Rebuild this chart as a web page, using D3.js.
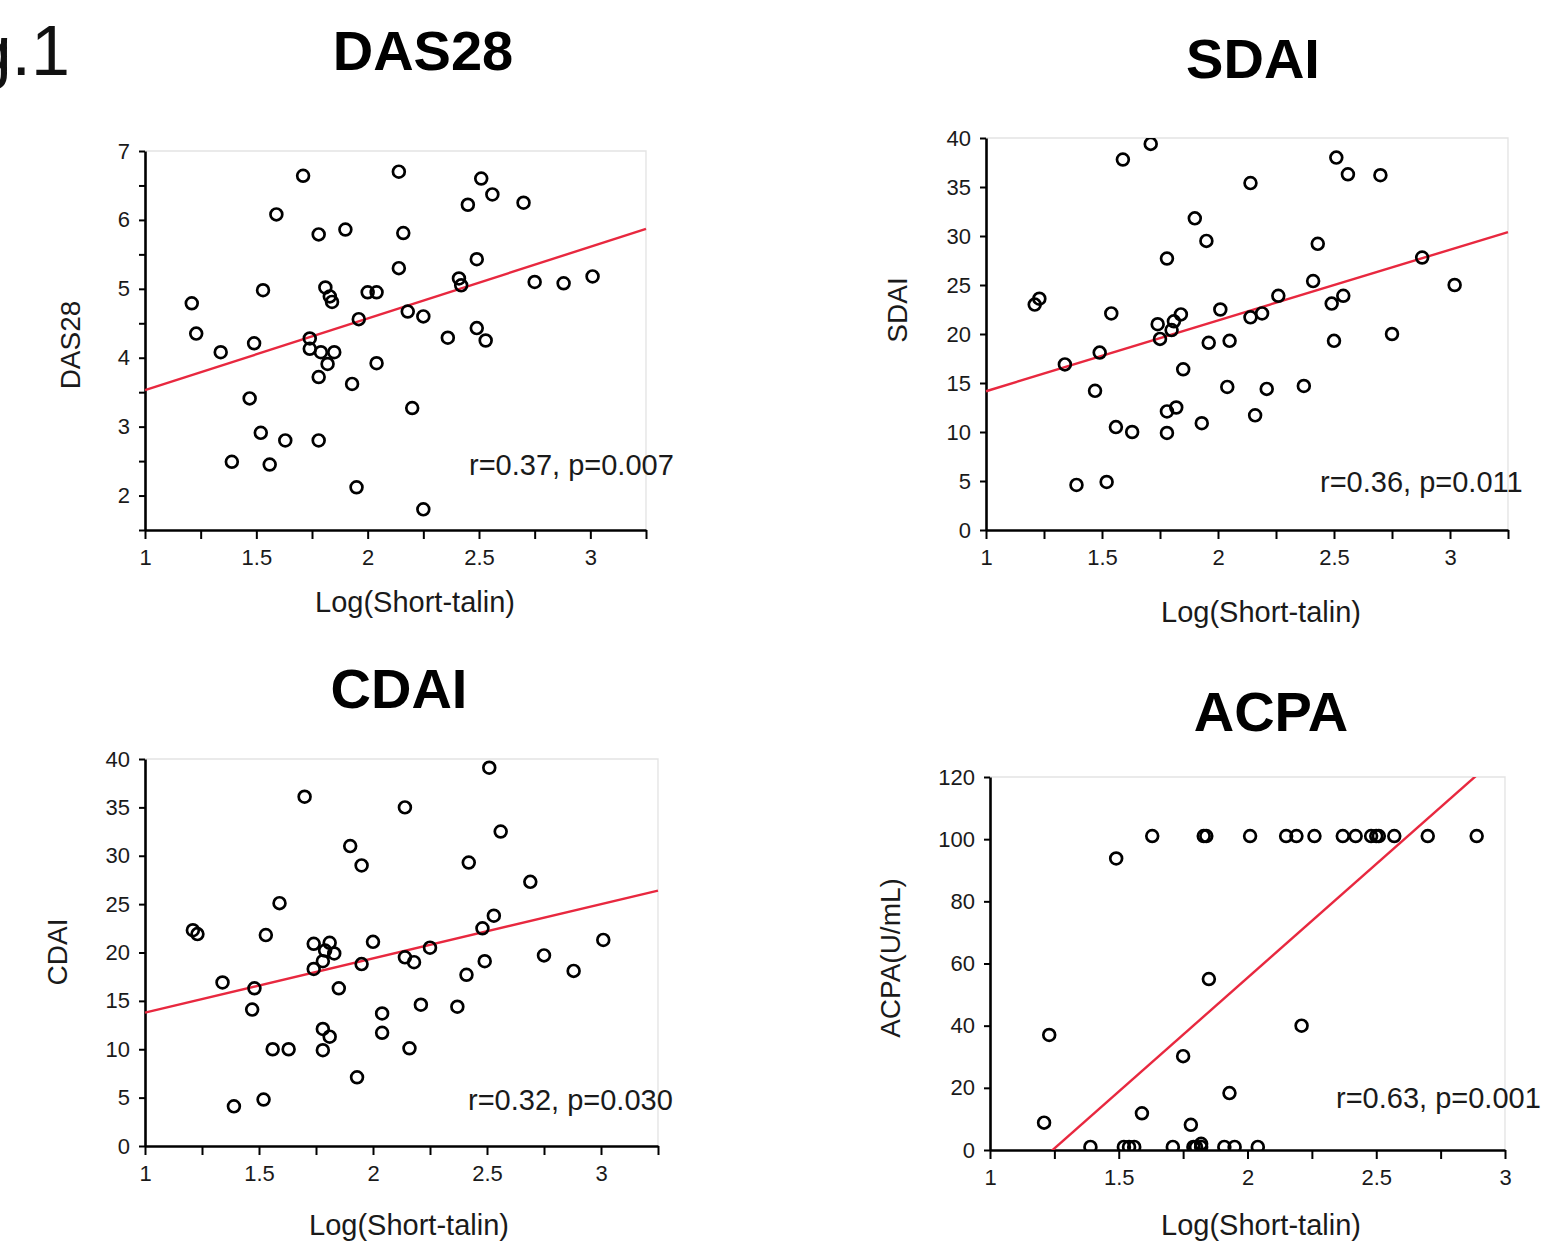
<!DOCTYPE html>
<html>
<head>
<meta charset="utf-8">
<script src="https://cdn.jsdelivr.net/npm/d3@7"></script>
<style>
	body { margin: 0; background: #fff; }
	text { font-family: 'Liberation Sans', Arial, Helvetica, sans-serif; }
</style>
</head>
<body>
<svg width="1543" height="1247"></svg>
<script>
// values
let titles = ['DAS28', 'SDAI', 'CDAI', 'ACPA'];
let yTitles = ['DAS28', 'SDAI', 'CDAI', 'ACPA(U/mL)'];
let xTitle = 'Log(Short-talin)';
let statTexts = ['r=0.37, p=0.007', 'r=0.36, p=0.011', 'r=0.32, p=0.030', 'r=0.63, p=0.001'];

let xDomains = [[1, 3.25], [1, 3.25], [1, 3.25], [1, 3]];
let yDomains = [[1.5, 7], [0, 40], [0, 40], [0, 120]];
let xTickValues = [1, 1.25, 1.5, 1.75, 2, 2.25, 2.5, 2.75, 3, 3.25];
let yTickValues = [
	[1.5, 2, 2.5, 3, 3.5, 4, 4.5, 5, 5.5, 6, 6.5, 7],
	[0, 5, 10, 15, 20, 25, 30, 35, 40],
	[0, 5, 10, 15, 20, 25, 30, 35, 40],
	[0, 20, 40, 60, 80, 100, 120]];

let das28X = [1.21, 1.23, 1.34, 1.39, 1.49, 1.53, 1.47, 1.52, 1.56, 1.63, 1.59, 1.71, 1.78, 1.74, 1.74, 1.79, 1.85, 1.82, 1.78, 1.78, 1.81, 1.83, 1.84, 1.90, 1.93, 1.95, 1.96, 2.00, 2.04, 2.04, 2.14, 2.16, 2.14, 2.18, 2.20, 2.25, 2.25, 2.36, 2.41, 2.42, 2.45, 2.49, 2.49, 2.53, 2.51, 2.56, 2.70, 2.75, 2.88, 3.01];
let das28Y = [4.79, 4.35, 4.08, 2.49, 4.21, 4.98, 3.41, 2.91, 2.45, 2.80, 6.08, 6.64, 5.79, 4.28, 4.13, 4.08, 4.08, 3.91, 3.72, 2.80, 5.02, 4.89, 4.81, 5.86, 3.62, 2.12, 4.56, 4.95, 4.95, 3.92, 6.70, 5.81, 5.30, 4.67, 3.27, 4.60, 1.80, 4.29, 5.15, 5.05, 6.22, 5.43, 4.43, 4.25, 6.60, 6.37, 6.25, 5.10, 5.08, 5.18];

let sdaiX = [1.21, 1.23, 1.34, 1.39, 1.47, 1.49, 1.54, 1.52, 1.56, 1.63, 1.59, 1.71, 1.78, 1.74, 1.75, 1.80, 1.81, 1.84, 1.78, 1.82, 1.78, 1.85, 1.90, 1.95, 1.96, 1.93, 2.01, 2.05, 2.04, 2.14, 2.14, 2.19, 2.16, 2.21, 2.26, 2.37, 2.41, 2.43, 2.49, 2.54, 2.50, 2.51, 2.56, 2.70, 2.75, 2.88, 3.02];
let sdaiY = [23.0, 23.6, 16.9, 4.6, 14.2, 18.1, 22.1, 4.9, 10.5, 10.0, 37.8, 39.4, 27.7, 21.0, 19.5, 20.4, 21.3, 22.0, 12.1, 12.5, 9.9, 16.4, 31.8, 29.5, 19.1, 10.9, 22.5, 19.3, 14.6, 35.4, 21.7, 22.1, 11.7, 14.4, 23.9, 14.7, 25.4, 29.2, 23.1, 23.9, 19.3, 38.0, 36.3, 36.2, 20.0, 27.8, 25.0];

let cdaiX = [1.21, 1.23, 1.34, 1.39, 1.48, 1.47, 1.53, 1.52, 1.56, 1.63, 1.59, 1.70, 1.74, 1.81, 1.79, 1.83, 1.78, 1.74, 1.85, 1.78, 1.81, 1.78, 1.90, 1.95, 1.95, 1.93, 2.00, 2.04, 2.04, 2.14, 2.14, 2.18, 2.16, 2.21, 2.25, 2.37, 2.41, 2.42, 2.48, 2.53, 2.49, 2.51, 2.56, 2.69, 2.75, 2.88, 3.01];
let cdaiY = [22.3, 21.9, 16.9, 4.1, 16.3, 14.1, 21.8, 4.8, 10.0, 10.0, 25.1, 36.1, 20.9, 21.0, 20.2, 19.9, 19.1, 18.3, 16.3, 12.1, 11.3, 9.9, 31.0, 29.0, 18.8, 7.1, 21.1, 13.7, 11.7, 35.0, 19.5, 19.0, 10.1, 14.6, 20.5, 14.4, 17.7, 29.3, 22.5, 23.8, 19.1, 39.1, 32.5, 27.3, 19.7, 18.1, 21.3];

let acpaX = [1.63, 1.83, 1.84, 2.01, 2.15, 2.19, 2.26, 2.37, 2.42, 2.48, 2.50, 2.51, 2.57, 2.70, 2.89,
	1.49, 1.23, 1.21, 1.85, 2.21, 1.75, 1.93, 1.59, 1.78,
	1.39, 1.52, 1.54, 1.56, 1.71, 1.79, 1.80, 1.82, 1.82, 1.91, 1.95, 2.04];
let acpaY = [101, 101, 101, 101, 101, 101, 101, 101, 101, 101, 101, 101, 101, 101, 101,
	93.8, 37.0, 8.8, 55.0, 40.0, 30.2, 18.3, 11.8, 8.1,
	1, 1, 1, 1, 1, 1, 1, 2, 1, 1, 1, 1];

// regression lines as drawn in the figure
let fitSlope = [1.04, 7.22, 5.61, 73.2];
let fitIntercept = [2.49, 6.94, 8.17, -91.0];

let seriesX = [das28X, sdaiX, cdaiX, acpaX];
let seriesY = [das28Y, sdaiY, cdaiY, acpaY];

// layout of the four panels (pixels)
let panels = [
	{left: 145, right: 646, top: 151, bottom: 530, titleX: 423, titleY: 70, yTitleX: 70, yTitleY: 345, xTitleX: 415, xTitleY: 612, statX: 469, statY: 475},
	{left: 986, right: 1508, top: 138, bottom: 530, titleX: 1253, titleY: 78, yTitleX: 897, yTitleY: 310, xTitleX: 1261, xTitleY: 622, statX: 1320, statY: 492},
	{left: 145, right: 658, top: 759, bottom: 1146, titleX: 399, titleY: 708, yTitleX: 57, yTitleY: 952, xTitleX: 409, xTitleY: 1235, statX: 468, statY: 1110},
	{left: 990, right: 1505, top: 777, bottom: 1150, titleX: 1271, titleY: 731, yTitleX: 890, yTitleY: 958, xTitleX: 1261, xTitleY: 1235, statX: 1336, statY: 1108}
];

let svg = d3.select('svg');

svg.append('text')
	.attr('x', 70)
	.attr('y', 75)
	.attr('text-anchor', 'end')
	.attr('font-size', 70)
	.attr('fill', '#111')
	.text('Fig.1');

function fmtX(d) {
	return (d * 2) % 1 === 0 ? d : '';
}

function drawPanel(p, i) {
	let g = svg.append('g');
	let x = d3.scaleLinear().domain(xDomains[i]).range([p.left, p.right]);
	let y = d3.scaleLinear().domain(yDomains[i]).range([p.bottom, p.top]);

	// faint top/right frame
	g.append('path')
		.attr('d', `M${p.left},${p.top}H${p.right}V${p.bottom}`)
		.attr('fill', 'none')
		.attr('stroke', '#e3e3e3')
		.attr('stroke-width', 1.3);

	let clipId = 'clip' + i;
	g.append('clipPath')
		.attr('id', clipId)
		.append('rect')
		.attr('x', p.left - 12)
		.attr('y', p.top)
		.attr('width', p.right - p.left + 24)
		.attr('height', p.bottom - p.top);

	let xt = xTickValues.filter(v => v <= xDomains[i][1] + 1e-9);

	let xAxis = g.append('g')
		.attr('transform', `translate(0,${p.bottom})`)
		.call(d3.axisBottom(x).tickValues(xt).tickFormat(fmtX).tickSize(9).tickSizeOuter(0).tickPadding(10));

	let yAxis = g.append('g')
		.attr('transform', `translate(${p.left},0)`)
		.call(d3.axisLeft(y).tickValues(yTickValues[i])
			.tickFormat(d => (i === 0 && d % 1 !== 0) ? '' : d)
			.tickSize(6).tickSizeOuter(0).tickPadding(9));

	[xAxis, yAxis].forEach(a => {
		a.select('.domain').attr('stroke', '#000').attr('stroke-width', 2.6);
		a.selectAll('.tick line').attr('stroke', '#000').attr('stroke-width', 2);
		a.selectAll('.tick text')
			.attr('font-size', 22)
			.attr('fill', '#1a1a1a')
			.attr('font-family', "'Liberation Sans', Arial, sans-serif");
	});

	// regression line
	let xs = xDomains[i];
	g.append('line')
		.attr('clip-path', `url(#${clipId})`)
		.attr('x1', x(xs[0]))
		.attr('y1', y(fitSlope[i] * xs[0] + fitIntercept[i]))
		.attr('x2', x(xs[1]))
		.attr('y2', y(fitSlope[i] * xs[1] + fitIntercept[i]))
		.attr('stroke', '#e8283f')
		.attr('stroke-width', 2.4);

	// points
	g.append('g')
		.attr('clip-path', `url(#${clipId})`)
		.selectAll('circle')
		.data(d3.zip(seriesX[i], seriesY[i]))
		.join('circle')
		.attr('cx', d => x(d[0]))
		.attr('cy', d => y(d[1]))
		.attr('r', 5.9)
		.attr('fill', 'none')
		.attr('stroke', '#000')
		.attr('stroke-width', 2.7);

	g.append('text')
		.attr('x', p.titleX)
		.attr('y', p.titleY)
		.attr('text-anchor', 'middle')
		.attr('font-size', 56)
		.attr('font-weight', 'bold')
		.attr('fill', '#000')
		.text(titles[i]);

	g.append('text')
		.attr('transform', `translate(${p.yTitleX},${p.yTitleY}) rotate(-90)`)
		.attr('text-anchor', 'middle')
		.attr('dominant-baseline', 'central')
		.attr('font-size', 28)
		.attr('fill', '#1a1a1a')
		.text(yTitles[i]);

	g.append('text')
		.attr('x', p.xTitleX)
		.attr('y', p.xTitleY)
		.attr('text-anchor', 'middle')
		.attr('font-size', 29)
		.attr('fill', '#1a1a1a')
		.text(xTitle);

	g.append('text')
		.attr('x', p.statX)
		.attr('y', p.statY)
		.attr('font-size', 29)
		.attr('fill', '#1a1a1a')
		.text(statTexts[i]);
}

panels.forEach(drawPanel);
</script>
</body>
</html>
